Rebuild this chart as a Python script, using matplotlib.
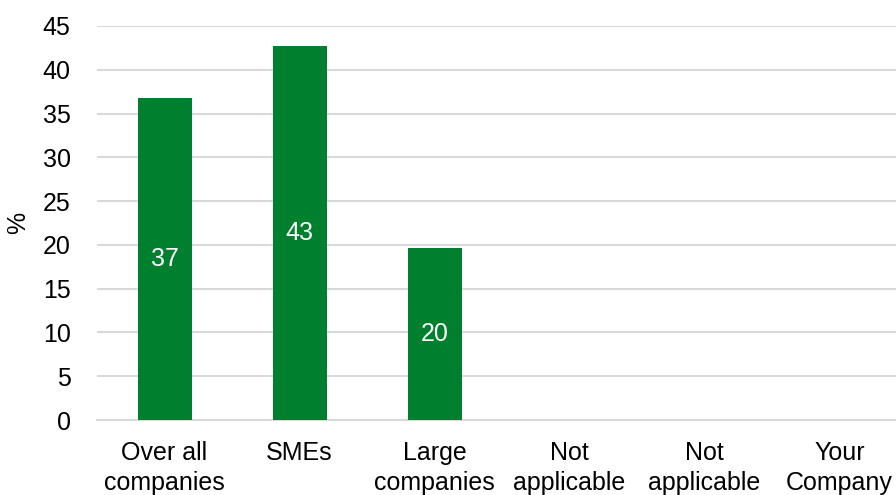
import matplotlib
matplotlib.use("Agg")
import matplotlib.pyplot as plt
import numpy as np

categories = ["Over all\ncompanies", "SMEs", "Large\ncompanies",
              "Not\napplicable", "Not\napplicable", "Your\nCompany"]
values = [36.8, 42.7, 19.6, None, None, None]
yticks = [0, 5, 10, 15, 20, 25, 30, 35, 40, 45]

plt.rcParams["font.family"] = ["Liberation Sans", "DejaVu Sans"]

fig = plt.figure(figsize=(8.96, 4.95), dpi=100)
ax = fig.add_axes([97 / 896, 1 - 420 / 495, 810 / 896, 394 / 495])

x = np.arange(len(categories))
bar_color = "#00802F"
for xi, v in zip(x, values):
    if v is None:
        continue
    ax.bar(xi, v, width=0.4, color=bar_color, zorder=3)
    ax.text(xi, v / 2, f"{v:.0f}", ha="center", va="center",
            color="white", fontsize=18, zorder=4)

ax.set_xlim(-0.5, len(categories) - 0.5)
ax.set_ylim(0, 45)
ax.set_yticks(yticks)
ax.set_yticklabels([str(t) for t in yticks], fontsize=18)
ax.set_xticks(x)
ax.set_xticklabels(categories, fontsize=18, linespacing=1.32, va="top")
ax.tick_params(axis="both", length=0)
ax.tick_params(axis="y", pad=19)
ax.tick_params(axis="x", pad=15)

ax.grid(axis="y", color="#d9d9d9", linewidth=1.5, zorder=0)
ax.set_axisbelow(True)
for s in ["top", "right", "left"]:
    ax.spines[s].set_visible(False)
ax.spines["bottom"].set_color("#d9d9d9")
ax.spines["bottom"].set_linewidth(1.5)

ax.set_ylabel("%", fontsize=18)
ax.yaxis.set_label_coords(-0.082, 0.5)

fig.savefig("out.png", dpi=100)
